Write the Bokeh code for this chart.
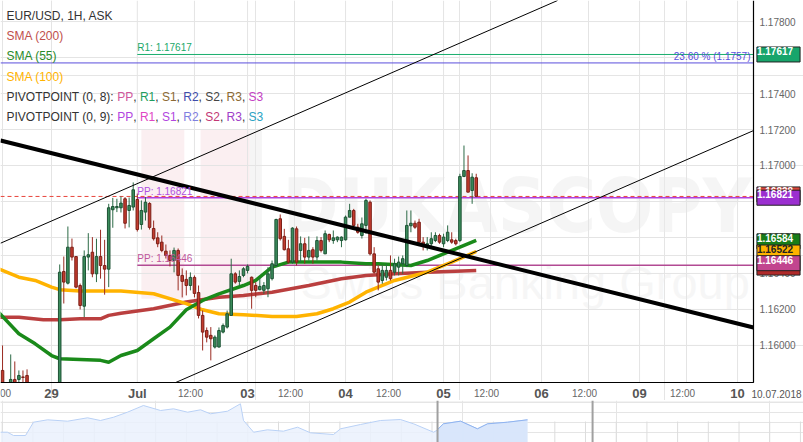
from bokeh.plotting import figure
from bokeh.models import Range1d, Label, LabelSet, ColumnDataSource, Span, BoxAnnotation
from bokeh.layouts import column
from bokeh.embed import file_html
from bokeh.resources import INLINE
from bokeh.core.properties import value

FONT = "Liberation Sans"

# ---------------- data (hourly candles, index = trading hours since 29 Jun 00:00) -------------
candle_idx = list(range(-12, 105))
opens = [1.15861, 1.15750, 1.15772, 1.15811, 1.15811, 1.15825, 1.15833, 1.15778, 1.15739, 1.15706,
         1.15728, 1.15750, 1.15722, 1.15739, 1.15761, 1.16411, 1.16346, 1.16546, 1.16494, 1.16333,
         1.16218, 1.16491, 1.16518, 1.16398, 1.16494, 1.16444, 1.16424, 1.16754, 1.16765, 1.16765,
         1.16815, 1.16750, 1.16769, 1.16811, 1.16672, 1.16741, 1.16789, 1.16650, 1.16598, 1.16574,
         1.16524, 1.16500, 1.16472, 1.16528, 1.16389, 1.16367, 1.16333, 1.16378, 1.16294, 1.16167,
         1.16083, 1.16056, 1.15991, 1.15991, 1.16074, 1.16102, 1.16167, 1.16398, 1.16356, 1.16389,
         1.16417, 1.16379, 1.16333, 1.16310, 1.16306, 1.16315, 1.16371, 1.16444, 1.16704, 1.16606,
         1.16537, 1.16463, 1.16648, 1.16528, 1.16565, 1.16491, 1.16532, 1.16491, 1.16583, 1.16509,
         1.16617, 1.16583, 1.16587, 1.16583, 1.16587, 1.16713, 1.16750, 1.16657, 1.16611, 1.16667,
         1.16796, 1.16509, 1.16426, 1.16361, 1.16379, 1.16417, 1.16407, 1.16435, 1.16454, 1.16444,
         1.16665, 1.16679, 1.16685, 1.16574, 1.16550, 1.16565, 1.16583, 1.16611, 1.16565, 1.16583,
         1.16587, 1.16583, 1.16583, 1.16939, 1.16972, 1.16861, 1.16932]
highs = [1.16000, 1.15783, 1.15950, 1.15911, 1.15861, 1.15861, 1.15867, 1.15789, 1.15761, 1.15750,
         1.15772, 1.15778, 1.15767, 1.15783, 1.16450, 1.16494, 1.16661, 1.16594, 1.16494, 1.16344,
         1.16528, 1.16624, 1.16602, 1.16593, 1.16643, 1.16587, 1.16787, 1.16820, 1.16815, 1.16828,
         1.16824, 1.16822, 1.16906, 1.16844, 1.16806, 1.16824, 1.16796, 1.16694, 1.16629, 1.16611,
         1.16561, 1.16528, 1.16544, 1.16539, 1.16428, 1.16417, 1.16406, 1.16389, 1.16333, 1.16194,
         1.16100, 1.16102, 1.16056, 1.16100, 1.16122, 1.16194, 1.16482, 1.16407, 1.16417, 1.16435,
         1.16450, 1.16383, 1.16352, 1.16379, 1.16352, 1.16435, 1.16472, 1.16704, 1.16728, 1.16648,
         1.16587, 1.16657, 1.16661, 1.16606, 1.16598, 1.16606, 1.16546, 1.16606, 1.16602, 1.16639,
         1.16621, 1.16639, 1.16606, 1.16606, 1.16722, 1.16787, 1.16759, 1.16676, 1.16711, 1.16815,
         1.16806, 1.16546, 1.16444, 1.16444, 1.16454, 1.16500, 1.16482, 1.16494, 1.16500, 1.16750,
         1.16750, 1.16694, 1.16704, 1.16602, 1.16602, 1.16629, 1.16629, 1.16621, 1.16621, 1.16667,
         1.16629, 1.16593, 1.16954, 1.17111, 1.17056, 1.16957, 1.16954]
lows = [1.15722, 1.15706, 1.15750, 1.15761, 1.15789, 1.15789, 1.15750, 1.15722, 1.15683, 1.15667,
        1.15694, 1.15706, 1.15683, 1.15700, 1.15739, 1.16233, 1.16339, 1.16472, 1.16317, 1.16200,
        1.16157, 1.16417, 1.16379, 1.16352, 1.16371, 1.16282, 1.16324, 1.16654, 1.16741, 1.16739,
        1.16650, 1.16656, 1.16750, 1.16633, 1.16644, 1.16694, 1.16644, 1.16583, 1.16546, 1.16518,
        1.16483, 1.16439, 1.16406, 1.16306, 1.16267, 1.16278, 1.16306, 1.16267, 1.16150, 1.15972,
        1.16017, 1.15917, 1.15983, 1.15989, 1.16067, 1.16094, 1.16167, 1.16343, 1.16333, 1.16379,
        1.16400, 1.16204, 1.16268, 1.16306, 1.16287, 1.16268, 1.16361, 1.16435, 1.16583, 1.16528,
        1.16454, 1.16454, 1.16444, 1.16463, 1.16454, 1.16472, 1.16454, 1.16472, 1.16517, 1.16509,
        1.16574, 1.16565, 1.16574, 1.16546, 1.16583, 1.16713, 1.16657, 1.16621, 1.16594, 1.16621,
        1.16500, 1.16398, 1.16306, 1.16343, 1.16361, 1.16361, 1.16389, 1.16389, 1.16398, 1.16435,
        1.16629, 1.16648, 1.16565, 1.16528, 1.16528, 1.16546, 1.16574, 1.16565, 1.16546, 1.16574,
        1.16565, 1.16556, 1.16574, 1.16935, 1.16852, 1.16787, 1.16824]
closes = [1.15778, 1.15739, 1.15811, 1.15783, 1.15833, 1.15822, 1.15778, 1.15739, 1.15706, 1.15728,
          1.15750, 1.15722, 1.15739, 1.15761, 1.16407, 1.16352, 1.16546, 1.16491, 1.16324, 1.16222,
          1.16494, 1.16504, 1.16398, 1.16494, 1.16444, 1.16424, 1.16765, 1.16772, 1.16772, 1.16791,
          1.16679, 1.16778, 1.16865, 1.16644, 1.16750, 1.16796, 1.16656, 1.16593, 1.16565, 1.16528,
          1.16500, 1.16472, 1.16528, 1.16389, 1.16356, 1.16333, 1.16378, 1.16289, 1.16167, 1.16074,
          1.16046, 1.16037, 1.16046, 1.16083, 1.16111, 1.16176, 1.16398, 1.16352, 1.16383, 1.16426,
          1.16439, 1.16306, 1.16306, 1.16328, 1.16333, 1.16398, 1.16454, 1.16700, 1.16593, 1.16532,
          1.16463, 1.16652, 1.16463, 1.16565, 1.16491, 1.16528, 1.16491, 1.16583, 1.16528, 1.16621,
          1.16587, 1.16598, 1.16602, 1.16602, 1.16713, 1.16750, 1.16667, 1.16629, 1.16676, 1.16806,
          1.16509, 1.16407, 1.16352, 1.16417, 1.16417, 1.16371, 1.16454, 1.16463, 1.16482, 1.16667,
          1.16679, 1.16657, 1.16574, 1.16556, 1.16565, 1.16593, 1.16611, 1.16574, 1.16602, 1.16629,
          1.16574, 1.16565, 1.16939, 1.16972, 1.16852, 1.16935, 1.16828]

sma200_x = [-13, -8, -2, 2, 7, 12, 14, 17, 25, 33, 41, 47, 54, 63, 71, 77, 84, 92, 104]
sma200 = [1.16157, 1.16157, 1.16143, 1.16143, 1.16148, 1.16148, 1.16167, 1.16179, 1.16204, 1.16241,
          1.16268, 1.16278, 1.16296, 1.16333, 1.16371, 1.16389, 1.16398, 1.16407, 1.16416]
sma55_x = [-13, -8, -4, 0, 2, 7, 12, 14, 17, 21, 25, 29, 33, 37, 41, 47, 50, 54, 58, 71, 77, 80,
           88, 92, 96, 100, 104]
sma55 = [1.16185, 1.16065, 1.16009, 1.15944, 1.15926, 1.15922, 1.15917, 1.15907, 1.15944, 1.15972,
         1.16037, 1.16102, 1.16198, 1.16250, 1.16287, 1.16333, 1.16361, 1.16435, 1.16463, 1.16463,
         1.16454, 1.16454, 1.16444, 1.16472, 1.16509, 1.16546, 1.16584]
sma100_x = [-13, -8, -4, 0, 2, 7, 17, 25, 33, 37, 41, 47, 54, 60, 65, 69, 73, 77, 84, 92, 98, 104]
sma100 = [1.16426, 1.16379, 1.16361, 1.16324, 1.16310, 1.16302, 1.16303, 1.16287, 1.16232, 1.16198,
          1.16176, 1.16171, 1.16161, 1.16161, 1.16176, 1.16204, 1.16241, 1.16296, 1.16361, 1.16407,
          1.16463, 1.16522]

# trend lines (two anchor points each, extended across the pane)
trend_x = [-12.5, 171.9]
trend_y = [1.17139, 1.16100]
chan_up_x = [-12.5, 140.0]
chan_up_y = [1.16568, 1.18076]
chan_lo_x = [29.9, 171.9]
chan_lo_y = [1.15789, 1.17194]

pivot_start = 21
r1_level = 1.17617
fib_level = 1.1757
pp9_level = 1.16821
pp8_level = 1.16446
ask_price = 1.16828

day_ticks = [0, 21, 48, 72, 96, 120, 144, 168]
day_labels = ["29", "Jul", "03", "04", "05", "06", "09", "10"]
noon_ticks = [-12, 35, 59.5, 83.5, 107.5, 131.5, 155.5]
price_ticks = [round(1.160 + 0.002 * i, 3) for i in range(10)]
view_date = "10.07.2018"

# navigator series (overview)
nav_x = [-0.06, 0.17, 0.37, 0.76, 1.02, 1.48, 2.13, 2.78, 3.20, 3.63, 4.08, 4.60, 5.16, 5.58, 6.04,
         6.46, 6.78, 7.34, 7.76, 7.86, 8.19, 8.64, 9.16, 9.62, 10.04, 10.79, 11.02, 11.67, 12.32,
         12.97, 13.40, 14.05, 14.15, 14.37, 14.93, 15.48, 15.81, 16.46, 17.11]
nav_v = [10.3, 10.3, 7, 7, 20.3, 22.7, 21.3, 24.7, 22, 25.3, 30.3, 37, 32, 33.7, 30.3, 32.7, 28.7,
         31.3, 38.7, 22, 10.3, 12.7, 11.3, 15.3, 9.7, 8, 13.7, 18, 22, 23, 18.7, 10.3, 12, 18.7,
         21.3, 13.7, 18.7, 20.3, 22.7]
nav_window = [14.18, 19.23]

# ---------------- scales ----------------
W, H = 803, 400
X0, X1 = -12.5, 171.9          # visible time span of the price pane
PXX = 753 / (X1 - X0)          # px per hour
XR = X0 + W / PXX              # right edge of canvas (price-scale area included)
Y0, YT = 1.15794, 1.17917      # bottom / top of price pane
PXY = 382 / (YT - Y0)          # px per price unit
YB = YT - H / PXY              # bottom edge of canvas (time-scale area included)


def clip_line(xs, ys):
    """Extend the line through two anchors and clip it to the price pane."""
    (xa, xb), (ya, yb) = xs, ys
    dx, dy = xb - xa, yb - ya
    t0, t1 = -1e9, 1e9
    for pp, qq in ((-dx, xa - X0), (dx, X1 - xa), (-dy, ya - Y0), (dy, YT - ya)):
        if pp == 0:
            continue
        t = qq / pp
        if pp < 0:
            t0 = max(t0, t)
        else:
            t1 = min(t1, t)
    return [xa + t0 * dx, xa + t1 * dx], [ya + t0 * dy, ya + t1 * dy]


p = figure(width=W, height=H, x_range=Range1d(X0, XR), y_range=Range1d(YB, YT),
           x_axis_location=None, y_axis_location=None, toolbar_location=None,
           output_backend="svg", min_border=0, background_fill_color="white",
           border_fill_color="white")
p.outline_line_color = None

# grid
p.segment(x0=[X0] * len(price_ticks), x1=[X1] * len(price_ticks), y0=price_ticks, y1=price_ticks,
          line_color="#e4e4e4", line_width=1)
vt = day_ticks + noon_ticks
p.segment(x0=vt, x1=vt, y0=[Y0] * len(vt), y1=[YT] * len(vt), line_color="#e4e4e4", line_width=1)

# watermark
for l, r, c in [(22.0, 32.5, "#f7dcdf"), (36.5, 48.5, "#f7dcdf"), (48.5, 51.5, "#e8e8e8")]:
    p.add_layout(BoxAnnotation(left=l, right=r, top=1.1720, bottom=1.1626, fill_color=c,
                               fill_alpha=0.45, line_color=None, level="underlay"))
p.add_layout(Label(x=282, y=195, x_units="screen", y_units="screen", text="DUKASCOPY",
                   text_font="'Liberation Sans Narrow', 'DejaVu Sans Condensed', sans-serif",
                   text_font_style="bold", text_font_size="75px", text_color="#ececec",
                   text_alpha=0.5, text_baseline="alphabetic", level="underlay"))
p.add_layout(Label(x=300, y=118, x_units="screen", y_units="screen", text="Swiss Banking Group",
                   text_font=FONT, text_font_size="47px", text_color="#ececec",
                   text_alpha=0.45, text_baseline="alphabetic", level="underlay"))

# horizontal levels
p.line([X0, X1], [fib_level, fib_level], line_color="#5a4fdc", line_width=1)
p.line([X0, X1], [ask_price, ask_price], line_color="#e8453c", line_width=1, line_dash="4 3")
p.line([pivot_start, X1], [r1_level, r1_level], line_color="#1aae6e", line_width=1)
p.line([pivot_start, X1], [pp9_level, pp9_level], line_color="#b040e0", line_width=1.5)
p.line([pivot_start, X1], [pp8_level, pp8_level], line_color="#b24a93", line_width=1.5)

# moving averages
p.line(sma200_x, sma200, line_color="#b22a2a", line_width=3.5, line_alpha=0.9)
p.line(sma100_x, sma100, line_color="#ffb300", line_width=3.5)
p.line(sma55_x, sma55, line_color="#1a8a1a", line_width=3.5)

# candles (only the parts inside the price pane)
cx, wt, wb, bt, bb, fill, edge, wick = [], [], [], [], [], [], [], []
for x, o, h, l, c in zip(candle_idx, opens, highs, lows, closes):
    if h <= Y0:
        continue
    u = c >= o
    cx.append(x)
    wt.append(min(h, YT)); wb.append(max(l, Y0))
    bt.append(max(min(max(o, c), YT), Y0)); bb.append(max(min(o, c), Y0))
    fill.append("#3b8c5c" if u else "#c33b2e")
    edge.append("#1d5234" if u else "#7b1f17")
    wick.append("#2c6a46" if u else "#9a2b22")
src = ColumnDataSource(dict(x=cx, wt=wt, wb=wb, bt=bt, bb=bb, fill=fill, edge=edge, wick=wick))
p.segment(x0="x", y0="wt", x1="x", y1="wb", source=src, line_color="wick", line_width=1)
p.vbar(x="x", top="bt", bottom="bb", width=0.62, source=src, fill_color="fill",
       line_color="edge", line_width=1)

# trend / channel lines
for xs, ys, lw in ((chan_up_x, chan_up_y, 1), (chan_lo_x, chan_lo_y, 1), (trend_x, trend_y, 4)):
    cxs, cys = clip_line(xs, ys)
    p.line(cxs, cys, line_color="black", line_width=lw)

# pane border (price scale on the right, time scale below)
p.line([X0, X1, X1], [Y0, Y0, YT], line_color="black", line_width=1.2)

# price scale labels
p.text(x=[X1] * len(price_ticks), y=price_ticks, text=[f"{t:.5f}" for t in price_ticks],
       x_offset=6, text_font=value(FONT), text_font_size="10px", text_color="#666666",
       text_align="left", text_baseline="middle")

# time scale labels
lab_y = Y0 - 11 / PXY
p.text(x=day_ticks, y=[lab_y] * len(day_ticks), text=day_labels, text_font=value(FONT),
       text_font_size="13px", text_font_style="bold", text_color="#555555",
       text_align="center", text_baseline="middle")
p.text(x=noon_ticks, y=[lab_y] * len(noon_ticks), text=["12:00"] * len(noon_ticks), x_offset=-4,
       text_font=value(FONT), text_font_size="10px", text_color="#666666",
       text_align="center", text_baseline="middle")
p.text(x=[X1 + 23 / PXX], y=[lab_y], text=[view_date], text_font=value(FONT),
       text_font_size="10px", text_color="#555555", text_align="center", text_baseline="middle")

# level labels
p.add_layout(Label(x=pivot_start, y=r1_level, text=f"R1: {r1_level:.5f}", text_font=FONT,
                   text_font_size="10px", text_color="#1aa86a", text_baseline="bottom", y_offset=1))
p.add_layout(Label(x=X1 - 3 / PXX, y=fib_level, text=f"23.60 % ({fib_level})",
                   text_font=FONT, text_font_size="10px", text_color="#5a4fdc",
                   text_align="right", text_baseline="bottom", y_offset=1))
p.add_layout(Label(x=pivot_start, y=pp9_level, text=f"PP: {pp9_level:.5f}", text_font=FONT,
                   text_font_size="10px", text_color="#b050e0", text_baseline="bottom", y_offset=1))
p.add_layout(Label(x=pivot_start, y=pp8_level, text=f"PP: {pp8_level:.5f}", text_font=FONT,
                   text_font_size="10px", text_color="#c0559c", text_baseline="bottom", y_offset=1))

# price tags on the price scale: (value, background, text colour, nudge px)
tags = [
    (r1_level, "#17a56b", "white", 0),
    (ask_price, "#d9463b", "white", 2),
    (pp9_level, "#9b2fd0", "white", 0),
    (sma55[-1], "#187d18", "white", -1),
    (sma100[-1], "#ffb300", "#222222", -1),
    (sma200[-1], "#b02a2a", "white", 3),
    (pp8_level, "#c2458f", "white", 2),
]
for v, bg, tc, dy in tags:
    p.add_layout(Label(x=X1 + 25 / PXX, y=v, y_offset=dy, text=f"{v:.5f}",
                       text_font=FONT, text_font_size="10px", text_font_style="bold",
                       text_color=tc, text_align="center", text_baseline="middle",
                       background_fill_color=bg, border_line_color="#222222",
                       border_line_width=1, padding=(0, 7, 0, 7)))

# legend (top-left)
rows = [("EUR/USD, 1H, ASK", "#333333"), ("SMA (200)", "#c0504d"), ("SMA (55)", "#2a8a2a"),
        ("SMA (100)", "#ffb300")]
row_y = [15, 35.5, 55.7, 76, 96, 116]
for (t, c), yy in zip(rows, row_y):
    p.add_layout(Label(x=6, y=H - yy, x_units="screen", y_units="screen", text=t,
                       text_font=FONT, text_font_size="12px", text_color=c,
                       text_baseline="middle"))

AW = {' ': 278, '(': 333, ')': 333, ',': 278, ':': 278, 'P': 667, 'I': 278, 'V': 667, 'O': 778,
      'T': 611, 'N': 722, 'R': 722, 'S': 667}


def tw(s, size=12):
    return sum(AW.get(ch, 556) for ch in s) * size / 1000.0


pivot_names = ["PP", "R1", "S1", "R2", "S2", "R3", "S3"]
pivot_rows = [
    ("PIVOTPOINT (0, 8): ", ["#d0579c", "#1f9e5e", "#8c6a33", "#3e4cab", "#444444", "#8c6a33", "#c43fc4"]),
    ("PIVOTPOINT (0, 9): ", ["#b146e0", "#e046c4", "#b146e0", "#7f80e0", "#c23774", "#a040c8", "#2aa3c4"]),
]
for (prefix, cols), yy in zip(pivot_rows, row_y[4:]):
    xs, ts, cl = [6.0], [prefix], ["#333333"]
    cur = 6.0 + tw(prefix)
    for k, (nm, cc) in enumerate(zip(pivot_names, cols)):
        xs.append(cur); ts.append(nm); cl.append(cc)
        cur += tw(nm)
        if k < len(pivot_names) - 1:
            xs.append(cur); ts.append(", "); cl.append("#333333")
            cur += tw(", ")
    s = ColumnDataSource(dict(x=xs, y=[H - yy] * len(xs), t=ts, c=cl))
    p.add_layout(LabelSet(x="x", y="y", text="t", source=s, x_units="screen", y_units="screen",
                          text_font=value(FONT), text_font_size="12px", text_color="c",
                          text_baseline="middle"))

# ---------------- navigator ----------------
nav = figure(width=W, height=42, x_range=Range1d(-0.055, 26.1), y_range=Range1d(0, 42),
             x_axis_location=None, y_axis_location=None,
             toolbar_location=None, output_backend="svg", min_border=0,
             background_fill_color="white", border_fill_color="white")
nav.outline_line_color = None
ticks_nav = list(range(0, 27))
nav.segment(x0=ticks_nav, y0=[0] * 27, x1=ticks_nav, y1=[21] * 27, line_color="#dddddd", line_width=1)
nav.line([-0.1, 26.2], [40.5, 40.5], line_color="#e6e6e6", line_width=1)
nav.varea(x=nav_x, y1=[0] * len(nav_x), y2=nav_v, fill_color="#eaf1fd", fill_alpha=0.85)
nav.line(nav_x, nav_v, line_color="#b9d1f6", line_width=1)
sel = [(x, v) for x, v in zip(nav_x, nav_v) if x >= nav_window[0] - 0.05]
nav.varea(x=[a for a, b in sel], y1=[0] * len(sel), y2=[b for a, b in sel],
          fill_color="#d6e4fb", fill_alpha=0.9)
nav.line([a for a, b in sel], [b for a, b in sel], line_color="#8fb3ef", line_width=1)
for w in nav_window:
    nav.add_layout(Span(location=w, dimension="height", line_color="#a0a0a0", line_width=2))

layout = column(p, nav, spacing=0)
open("out.html", "w").write(file_html(layout, INLINE))
